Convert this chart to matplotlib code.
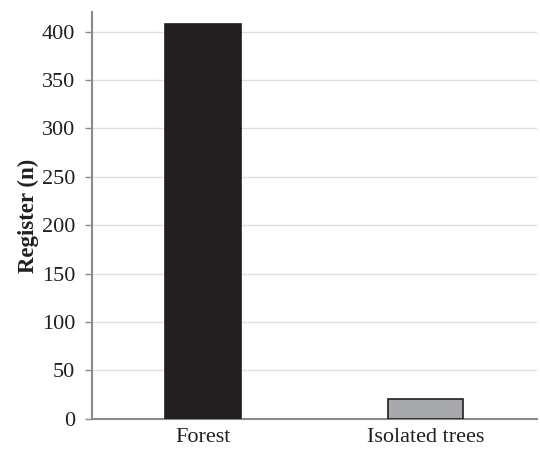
import matplotlib
matplotlib.use('Agg')
import matplotlib.pyplot as plt

categories = ['Forest', 'Isolated trees']
registers = [408, 20]
bar_colors = ['#231f20', '#a7a9ac']

plt.rcParams['font.family'] = ['Liberation Serif', 'DejaVu Serif']

fig = plt.figure(figsize=(5.4, 4.5), dpi=100)
ax = fig.add_axes([0.170, 0.0696, 0.824, 0.903])

x = range(len(categories))
ax.bar(x, registers, width=0.34, color=bar_colors, edgecolor='#231f20',
       linewidth=1.2, zorder=3)

ax.set_xlim(-0.5, 1.5)
ax.set_ylim(0, 420)
ax.set_yticks(range(0, 401, 50))
ax.set_xticks(list(x))
ax.set_xticklabels(categories)

ax.grid(axis='y', color='#e0e0e0', linewidth=1, zorder=0)
ax.set_axisbelow(True)

for side in ['top', 'right']:
    ax.spines[side].set_visible(False)
for side in ['left', 'bottom']:
    ax.spines[side].set_color('#8a8a8c')
    ax.spines[side].set_linewidth(1.5)

ax.tick_params(axis='y', length=5, width=1, color='#8a8a8c',
               labelsize=16, labelcolor='#231f20', pad=7)
ax.tick_params(axis='x', length=0, labelsize=16, labelcolor='#231f20', pad=7)

ax.set_ylabel('Register (n)', fontsize=16.5, fontweight='bold',
              color='#231f20', labelpad=2)

fig.savefig('out.png', dpi=100)
